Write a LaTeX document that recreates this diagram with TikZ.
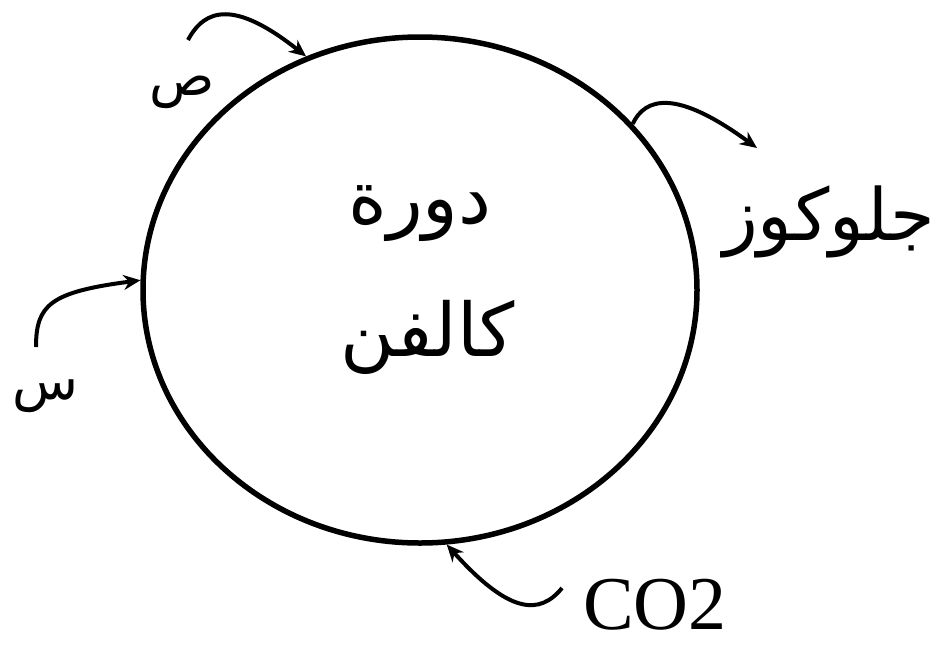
\documentclass[tikz,border=0pt]{standalone}
\usepackage{fontspec}
\setmainfont{Liberation Serif}
\newfontfamily\arabicfont[Script=Arabic]{DejaVu Sans}
\TeXXeTstate=1
\usetikzlibrary{shapes.geometric,arrows.meta}
\begin{document}
\begin{tikzpicture}[x=1pt,y=-1pt,
  cyclebox/.style={draw,ellipse,line width=5.5pt,minimum width=554pt,minimum height=506pt,inner sep=0pt},
  flow/.style={line width=4pt,-{Stealth[length=17pt,width=15pt]}},
  artext/.style={inner sep=0pt,font=\arabicfont\fontsize{74}{80}\selectfont},
  smalltext/.style={inner sep=0pt,font=\arabicfont\fontsize{54}{60}\selectfont},
  lattext/.style={inner sep=0pt,font=\fontsize{76}{80}\selectfont}]
\useasboundingbox (0,0) rectangle (937,646);
\node[cyclebox] (cyc) at (420,290) {};
\node[artext] (t1) at (420,214) {\beginR دورة\endR};
\node[artext] (t2) at (428,337) {\beginR كالفن\endR};
\node[artext,font=\arabicfont\fontsize{72}{80}\selectfont] (glu) at (829,222) {\beginR جلوكوز\endR};
\node[smalltext] (sad) at (182,92) {\beginR ص\endR};
\node[smalltext] (sin) at (45,396) {\beginR س\endR};
\node[lattext] (co2) at (655,605) {CO2};
\coordinate (s1) at (188,40);
\coordinate (e2) at (757,148);
\coordinate (s3) at (36,347);
\coordinate (s4) at (562,588);
\draw[flow] (s1) .. controls (205,8) and (235,0) .. (cyc.116);
\draw[flow] (cyc.38) .. controls (645,98) and (675,88) .. (e2);
\draw[flow] (s3) .. controls (36,305) and (50,292) .. (cyc.178);
\draw[flow] (s4) .. controls (540,615) and (510,615) .. (cyc.276);
\end{tikzpicture}
\end{document}
